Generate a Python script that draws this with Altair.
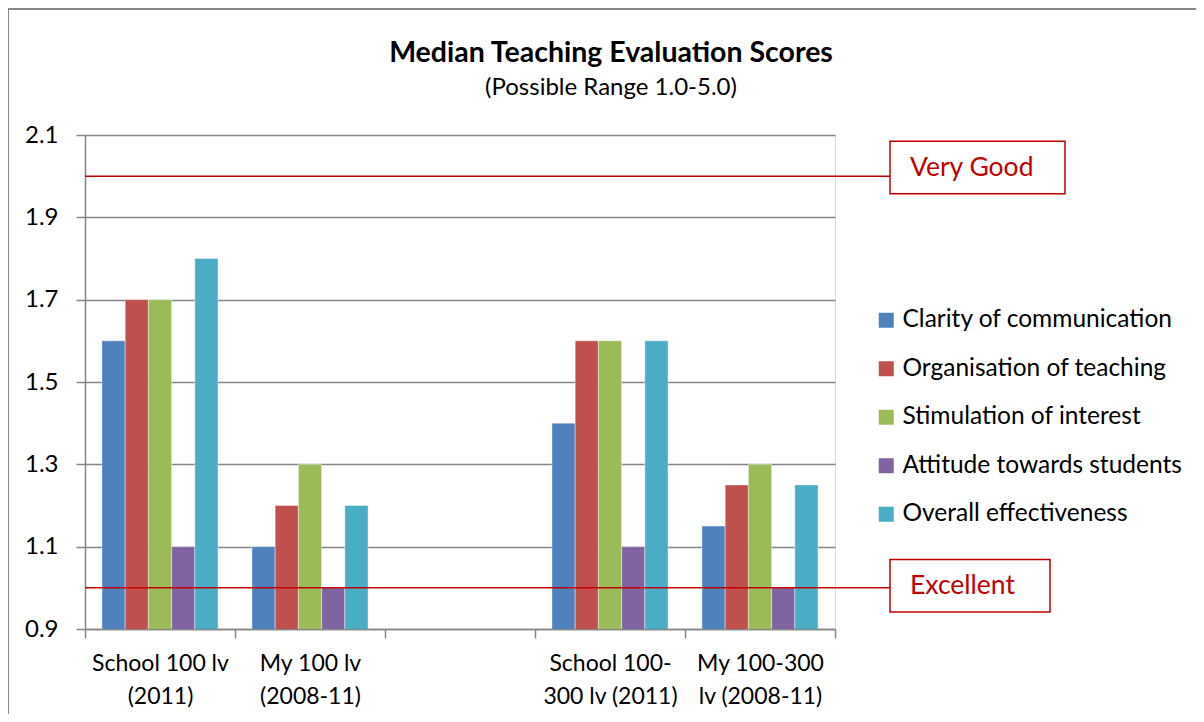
import altair as alt
import pandas as pd

categories = ["School 100 lv|(2011)", "My 100 lv|(2008-11)", " ", "School 100-|300 lv (2011)", "My 100-300|lv (2008-11)"]
series = ["Clarity of communication", "Organisation of teaching", "Stimulation of interest",
          "Attitude towards students", "Overall effectiveness"]
colors = ["#4F81BD", "#C0504D", "#9BBB59", "#8064A2", "#4BACC6"]

school_100 = [1.6, 1.7, 1.7, 1.1, 1.8]
my_100 = [1.1, 1.2, 1.3, 1.0, 1.2]
school_100_300 = [1.4, 1.6, 1.6, 1.1, 1.6]
my_100_300 = [1.15, 1.25, 1.3, 1.0, 1.25]

thresholds = [2.0, 1.0]
threshold_labels = ["Very Good", "Excellent"]

title_text = "Median Teaching Evaluation Scores"
subtitle_text = "(Possible Range 1.0-5.0)"

FONT = "Lato"
RED = "#C00000"
GRID = "#868686"

rows = []
for cat, vals in [(categories[0], school_100), (categories[1], my_100),
                  (categories[3], school_100_300), (categories[4], my_100_300)]:
    for s, v in zip(series, vals):
        rows.append({"cat": cat, "series": s, "value": v})
df = pd.DataFrame(rows)

yscale = alt.Scale(domain=[0.9, 2.1], nice=False, zero=False)

bars = alt.Chart(df).mark_bar(clip=True, stroke="white", strokeWidth=0.6, strokeOpacity=0.7).encode(
    x=alt.X("cat:N", sort=categories,
            scale=alt.Scale(domain=categories, paddingInner=0, paddingOuter=0),
            axis=alt.Axis(title=None, labelAngle=0, tickBand="extent", labelExpr="split(datum.label, '|')",
                          labelFontSize=23, labelFont=FONT, labelColor="black", labelLineHeight=33,
                          labelPadding=14, tickSize=9, tickColor=GRID, domainColor=GRID,
                          tickWidth=1.5, domainWidth=1.5, grid=False, labelBaseline="top")),
    xOffset=alt.XOffset("series:N", sort=series, scale=alt.Scale(paddingInner=0, paddingOuter=0.73)),
    y=alt.Y("value:Q", scale=yscale,
            axis=alt.Axis(title=None, values=[0.9, 1.1, 1.3, 1.5, 1.7, 1.9, 2.1], format=".1f",
                          labelFontSize=24, labelFont=FONT, labelColor="black", labelPadding=18,
                          tickSize=9, tickColor=GRID, domainColor=GRID, gridColor=GRID,
                          tickWidth=1.5, domainWidth=1.5, gridWidth=1.5)),
    color=alt.Color("series:N", sort=series, scale=alt.Scale(domain=series, range=colors),
                    legend=alt.Legend(title=None, orient="none", legendX=789, legendY=173,
                                      symbolType="square", symbolSize=225, symbolStrokeWidth=0,
                                      labelFontSize=24.5, labelFont=FONT, labelColor="black",
                                      rowPadding=23.5, labelOffset=4, labelLimit=400)),
)

tdf = pd.DataFrame({"v": thresholds, "label": threshold_labels})
tdf["lo"] = [thresholds[0] - 0.043, thresholds[1] - 0.059]
tdf["hi"] = [thresholds[0] + 0.085, thresholds[1] + 0.069]
tdf["mid"] = [thresholds[0] + 0.021, thresholds[1] + 0.005]

lines = alt.Chart(tdf).mark_rule(color=RED, strokeWidth=1.5).encode(
    y=alt.Y("v:Q", scale=yscale), x=alt.value(0), x2=alt.value(805))

box_vg = alt.Chart(tdf.iloc[[0]]).mark_rect(fill="white", stroke=RED, strokeWidth=1.5).encode(
    y=alt.Y("lo:Q", scale=yscale), y2="hi:Q", x=alt.value(805), x2=alt.value(980))
box_ex = alt.Chart(tdf.iloc[[1]]).mark_rect(fill="white", stroke=RED, strokeWidth=1.5).encode(
    y=alt.Y("lo:Q", scale=yscale), y2="hi:Q", x=alt.value(805), x2=alt.value(965))

texts = alt.Chart(tdf).mark_text(color=RED, font=FONT, fontSize=26.5, align="left", baseline="middle").encode(
    y=alt.Y("mid:Q", scale=yscale), x=alt.value(825), text="label:N")

title = alt.Chart(pd.DataFrame({"t": [title_text]})).mark_text(
    font=FONT, fontSize=28.5, fontWeight="bold", color="black", align="center", baseline="alphabetic").encode(
    x=alt.value(526), y=alt.value(-73), text="t:N")
subtitle = alt.Chart(pd.DataFrame({"t": [subtitle_text]})).mark_text(
    font=FONT, fontSize=24, color="black", align="center", baseline="alphabetic").encode(
    x=alt.value(526), y=alt.value(-40), text="t:N")

border_top = alt.Chart(tdf.iloc[[0]]).mark_rule(color="#888888", strokeWidth=2).encode(
    x=alt.value(-77), x2=alt.value(1120), y=alt.value(-126))
border_left = alt.Chart(tdf.iloc[[0]]).mark_rule(color="#888888", strokeWidth=2).encode(
    x=alt.value(-77), y=alt.value(-126), y2=alt.value(600))

chart = alt.layer(bars, lines, box_vg, box_ex, texts, title, subtitle, border_top, border_left).properties(
    width=750, height=494,
    autosize=alt.AutoSizeParams(type="none"),
    padding={"left": 77, "top": 127, "right": 361, "bottom": 85},
).configure_view(stroke=None).configure(background="white")

chart.save("out.html", embed_options={"renderer": "svg", "actions": False})
